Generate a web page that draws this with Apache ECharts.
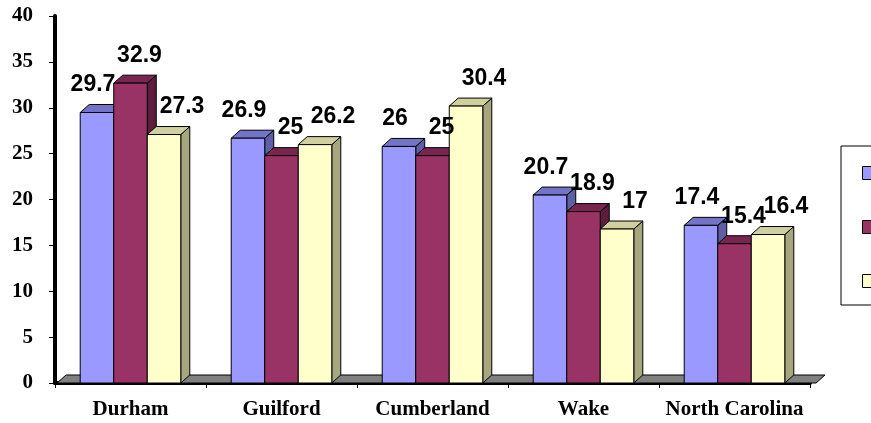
<!DOCTYPE html>
<html>
<head>
<meta charset="utf-8">
<script src="https://cdn.jsdelivr.net/npm/echarts@6/dist/echarts.min.js"></script>
<style>
  html, body { margin: 0; padding: 0; background: #fff; }
  #chart { width: 871px; height: 423px; }
</style>
</head>
<body>
<div id="chart"></div>
<script>
// data
const categories = ['Durham', 'Guilford', 'Cumberland', 'Wake', 'North Carolina'];
const seriesNames = ['Series1', 'Series2', 'Series3'];
const blueValues = [29.7, 26.9, 26, 20.7, 17.4];
const redValues = [32.9, 25, 25, 18.9, 15.4];
const yellowValues = [27.3, 26.2, 30.4, 17, 16.4];

// 3d look: front, top, side colours per series
const faces = [
  { front: '#9999FF', top: '#7373C8', side: '#5F5FA6', labelShift: -4 },
  { front: '#993366', top: '#7A2450', side: '#5E1C3E', labelShift: 9 },
  { front: '#FFFFCC', top: '#CFCFA0', side: '#A6A67F', labelShift: 18 }
];
const DX = 9;
const DY = 8;

const chart = echarts.init(document.getElementById('chart'));

function barRender(idx) {
  const c = faces[idx];
  return function (params, api) {
    const cat = api.value(0);
    const val = api.value(1);
    const base = api.coord([cat, 0]);
    const top = api.coord([cat, val]);
    const band = api.size([1, 0])[0];
    const w = band * 0.222;
    const x0 = base[0] - 1.5 * w + idx * w;
    const x1 = x0 + w;
    const yb = base[1];
    const yt = top[1] + 2;
    const line = { stroke: '#000', lineWidth: 1 };
    return {
      type: 'group',
      children: [
        {
          type: 'polygon',
          shape: { points: [[x1, yb], [x1, yt], [x1 + DX, yt - DY], [x1 + DX, yb - DY]] },
          style: Object.assign({ fill: c.side }, line)
        },
        {
          type: 'polygon',
          shape: { points: [[x0, yt], [x0 + DX, yt - DY], [x1 + DX, yt - DY], [x1, yt]] },
          style: Object.assign({ fill: c.top }, line)
        },
        {
          type: 'rect',
          shape: { x: x0, y: yt, width: w, height: yb - yt },
          style: Object.assign({ fill: c.front }, line)
        },
        {
          type: 'text',
          z2: 100,
          style: {
            text: String(val),
            x: (x0 + x1) / 2 + c.labelShift,
            y: yt - DY - 8,
            align: 'center',
            verticalAlign: 'bottom',
            font: 'bold 23px "Liberation Sans", Arial, sans-serif',
            fill: '#000'
          }
        }
      ]
    };
  };
}

// grey floor under the bars
function floorRender(params, api) {
  const cs = params.coordSys;
  const x0 = cs.x + 2;
  const x1 = cs.x + cs.width + 6;
  const yb = cs.y + cs.height;
  return {
    type: 'polygon',
    shape: { points: [[x0, yb], [x0 + DX, yb - DY], [x1 + DX, yb - DY], [x1, yb]] },
    style: { fill: '#808080', stroke: '#000', lineWidth: 1 }
  };
}

const valueSets = [blueValues, redValues, yellowValues];
const barSeries = valueSets.map(function (vals, i) {
  return {
    name: seriesNames[i],
    type: 'custom',
    renderItem: barRender(i),
    itemStyle: { color: faces[i].front, borderColor: '#000', borderWidth: 1 },
    encode: { x: 0, y: 1 },
    data: vals.map(function (v, k) { return [k, v]; })
  };
});

chart.setOption({
  backgroundColor: '#fff',
  animation: false,
  grid: { left: 55, right: 61, top: 16, bottom: 40 },
  legend: {
    orient: 'vertical',
    left: 841,
    top: 146,
    padding: [20, 40, 17, 21],
    itemWidth: 13,
    itemHeight: 13,
    itemGap: 40,
    icon: 'rect',
    borderColor: '#000',
    borderWidth: 1,
    backgroundColor: '#fff',
    itemStyle: { borderColor: '#000', borderWidth: 1 },
    textStyle: { fontSize: 13, lineHeight: 13, color: '#000' },
    data: seriesNames
  },
  xAxis: {
    type: 'category',
    data: categories,
    axisLine: { lineStyle: { color: '#000', width: 4 } },
    axisTick: { show: true, length: 5, lineStyle: { color: '#000', width: 1 } },
    axisLabel: {
      interval: 0,
      margin: 16,
      color: '#000',
      fontFamily: '"Liberation Serif", "Times New Roman", serif',
      fontWeight: 'bold',
      fontSize: 21
    }
  },
  yAxis: {
    type: 'value',
    min: 0,
    max: 40,
    interval: 5,
    splitLine: { show: false },
    axisLine: { show: true, lineStyle: { color: '#000', width: 4 } },
    axisTick: { show: true, length: 6, lineStyle: { color: '#000', width: 1 } },
    axisLabel: {
      margin: 22,
      color: '#000',
      fontFamily: '"Liberation Serif", "Times New Roman", serif',
      fontWeight: 'bold',
      fontSize: 21
    }
  },
  series: [
    {
      name: 'floor',
      type: 'custom',
      renderItem: floorRender,
      silent: true,
      data: [[0, 0]]
    }
  ].concat(barSeries)
});
</script>
</body>
</html>
